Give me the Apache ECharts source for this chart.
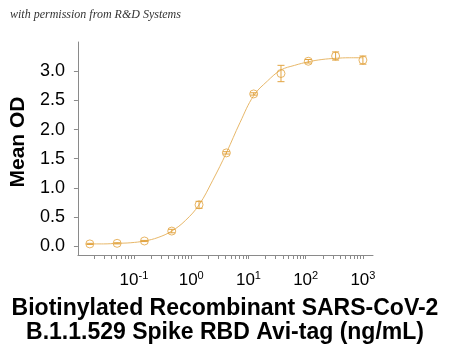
<!DOCTYPE html>
<html>
<head>
<meta charset="utf-8">
<title>Mean OD</title>
<script src="https://cdn.jsdelivr.net/npm/echarts@6/dist/echarts.min.js"></script>
<style>
html,body{margin:0;padding:0;background:#fff;}
#chart{width:450px;height:351px;}
</style>
</head>
<body>
<div id="chart"></div>
<script>
// 浓度 (ng/mL) 与 OD 均值、误差
var conc = [1000, 333.3, 111.1, 37.04, 12.35, 4.115, 1.372, 0.4572, 0.1524, 0.0508, 0.01694];
var od   = [3.19, 3.26, 3.17, 2.96, 2.61, 1.60, 0.71, 0.26, 0.09, 0.05, 0.04];
var err  = [0.07, 0.07, 0.03, 0.14, 0.02, 0.02, 0.06, 0.03, 0.01, 0.01, 0.01];
// 拟合曲线
var fitX = [0.01694, 0.0293, 0.0508, 0.088, 0.1524, 0.264, 0.4572, 0.79, 1.372, 2.38, 4.115, 7.13, 12.35, 21.4, 37.04, 64.2, 111.1, 192, 333.3, 577, 1000];
var fitY = [0.04, 0.04, 0.05, 0.06, 0.09, 0.15, 0.26, 0.44, 0.71, 1.13, 1.60, 2.12, 2.58, 2.83, 3.02, 3.10, 3.16, 3.20, 3.22, 3.23, 3.23];
// 刻度
var yTicks = [0, 0.5, 1, 1.5, 2, 2.5, 3];
var xMajor = [0.1, 1, 10, 100, 1000];
var xMinor = [0.02, 0.03, 0.04, 0.05, 0.06, 0.07, 0.08, 0.09,
  0.1, 0.2, 0.3, 0.4, 0.5, 0.6, 0.7, 0.8, 0.9,
  1, 2, 3, 4, 5, 6, 7, 8, 9,
  10, 20, 30, 40, 50, 60, 70, 80, 90,
  100, 200, 300, 400, 500, 600, 700, 800, 900, 1000];

var lineColor = '#E8B86A';
var dotColor = '#E2A440';
var axisColor = '#8a8a8a';

var myChart = echarts.init(document.getElementById('chart'));

var pts = [], bars = [], fit = [];
for (var i = 0; i < conc.length; i++) {
    pts.push([conc[i], od[i]]);
    bars.push([conc[i], od[i] - err[i], od[i] + err[i]]);
}
for (var j = 0; j < fitX.length; j++) {
    fit.push([fitX[j], fitY[j]]);
}

var option = {
    animation: false,
    backgroundColor: '#fff',
    grid: {left: 74, right: 77, top: 42, bottom: 96},
    graphic: [
        {
            type: 'text', left: 10, top: 9,
            style: {text: 'with permission from R&D Systems', font: 'italic 12px "Liberation Serif"', fill: '#333'}
        },
        {
            type: 'text', left: 'center', top: 297,
            style: {
                text: 'Biotinylated Recombinant SARS-CoV-2\nB.1.1.529 Spike RBD Avi-tag (ng/mL)',
                font: 'bold 23px "Liberation Sans"', fill: '#000', textAlign: 'center', lineHeight: 24
            }
        }
    ],
    xAxis: {
        type: 'log',
        logBase: 10,
        min: 0.0105,
        max: 1500,
        splitLine: {show: false},
        axisLine: {onZero: false, lineStyle: {color: axisColor, width: 1}},
        axisTick: {show: true, length: 4, customValues: xMinor, lineStyle: {color: axisColor}},
        axisLabel: {
            customValues: xMajor,
            margin: 15,
            formatter: function (v) {
                var k = Math.round(Math.log(v) / Math.LN10);
                var e = k < 0 ? '-' + (-k) : '' + k;
                return '{b|10}{s|' + e + '}';
            },
            rich: {
                b: {fontSize: 17, fontFamily: 'Liberation Sans', color: '#000', verticalAlign: 'bottom'},
                s: {fontSize: 11, fontFamily: 'Liberation Sans', color: '#000', verticalAlign: 'top', padding: [0, 0, 8, 0]}
            }
        }
    },
    yAxis: {
        type: 'value',
        min: -0.15,
        max: 3.5,
        name: 'Mean OD',
        nameLocation: 'middle',
        nameGap: 47,
        nameTextStyle: {fontSize: 21, fontWeight: 'bold', fontFamily: 'Liberation Sans', color: '#000', padding: [0, 0, 0, 13]},
        splitLine: {show: false},
        axisLine: {show: true, lineStyle: {color: axisColor, width: 1}},
        axisTick: {show: true, length: 4, customValues: yTicks, lineStyle: {color: axisColor}},
        axisLabel: {
            customValues: yTicks,
            margin: 13,
            fontSize: 18,
            fontFamily: 'Liberation Sans',
            color: '#000',
            formatter: function (v) { return v.toFixed(1); }
        }
    },
    series: [
        {
            name: 'fit',
            type: 'line',
            data: fit,
            smooth: 0.4,
            showSymbol: false,
            lineStyle: {color: lineColor, width: 1},
            z: 1
        },
        {
            name: 'err',
            type: 'custom',
            data: bars,
            renderItem: function (params, api) {
                var x = api.value(0);
                var lo = api.coord([x, api.value(1)]);
                var hi = api.coord([x, api.value(2)]);
                var w = 3.5;
                var st = {stroke: dotColor, lineWidth: 1};
                return {
                    type: 'group',
                    children: [
                        {type: 'line', shape: {x1: lo[0], y1: lo[1], x2: hi[0], y2: hi[1]}, style: st},
                        {type: 'line', shape: {x1: lo[0] - w, y1: lo[1], x2: lo[0] + w, y2: lo[1]}, style: st},
                        {type: 'line', shape: {x1: hi[0] - w, y1: hi[1], x2: hi[0] + w, y2: hi[1]}, style: st}
                    ]
                };
            },
            z: 3
        },
        {
            name: 'Mean OD',
            type: 'scatter',
            data: pts,
            symbol: 'circle',
            symbolSize: 8,
            itemStyle: {color: 'rgba(255,255,255,0)', borderColor: dotColor, borderWidth: 1},
            z: 4
        }
    ]
};

myChart.setOption(option);
</script>
</body>
</html>
